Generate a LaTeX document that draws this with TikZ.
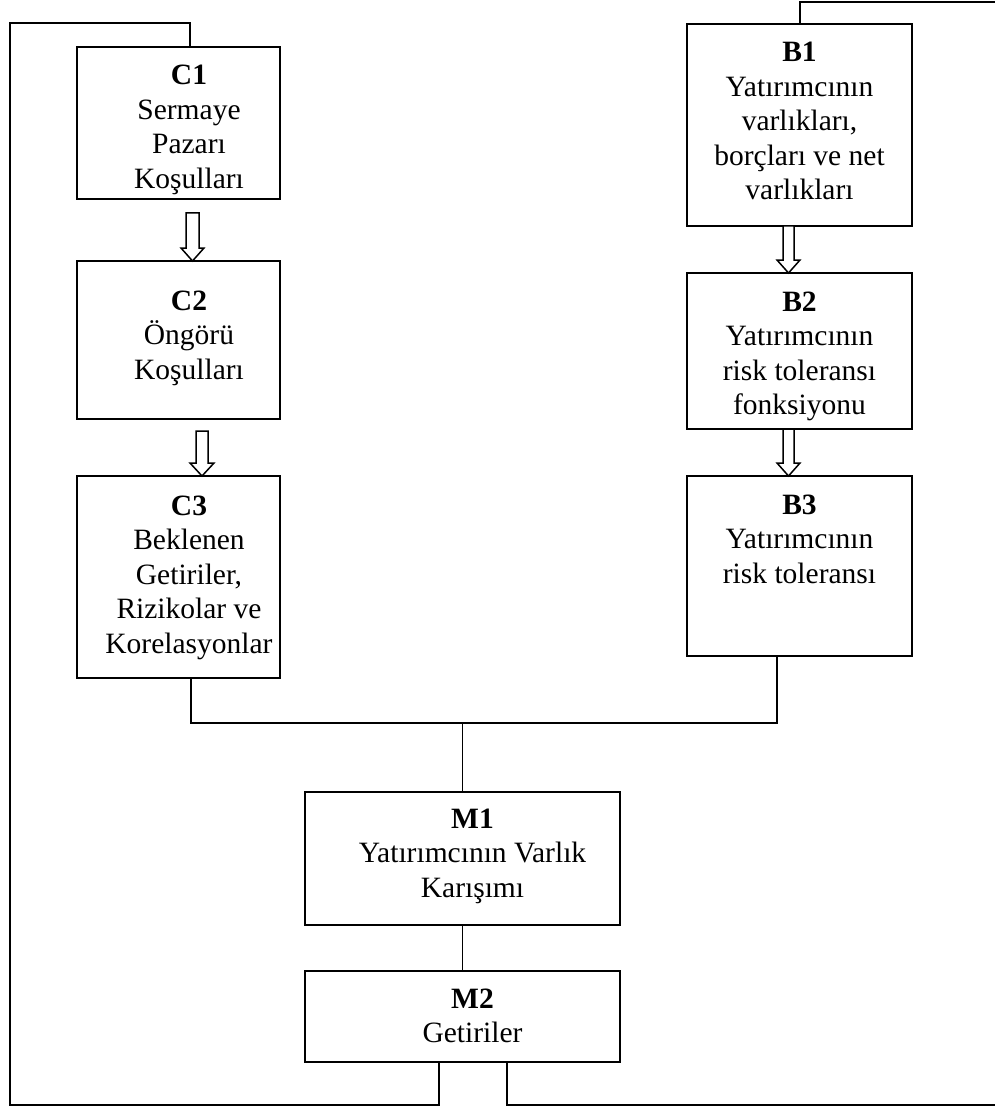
\documentclass[tikz,border=0pt]{standalone}
\usepackage{fontspec}
\setmainfont{Liberation Serif}
\usetikzlibrary{calc}
\tikzset{
  box/.style={draw, line width=1.6pt, inner sep=0pt, outer sep=0pt},
  txt/.style={anchor=north, align=center, inner sep=0pt, outer sep=0pt,
    font=\fontsize{29.5}{34.5}\selectfont},
  link/.style={line width=1.6pt},
  harrow/.style={line width=1.5pt, fill=white, line join=miter}
}
\begin{document}
\begin{tikzpicture}[x=1pt, y=-1pt]
\useasboundingbox (0,0) rectangle (994,1107);
% boxes
\node[box, minimum width=203pt, minimum height=152pt] (c1) at (178.5,123) {};
\node[box, minimum width=203pt, minimum height=158pt] (c2) at (178.5,340) {};
\node[box, minimum width=203pt, minimum height=202pt] (c3) at (178.5,577) {};
\node[box, minimum width=225pt, minimum height=202pt] (b1) at (799.5,125) {};
\node[box, minimum width=225pt, minimum height=156pt] (b2) at (799.5,351) {};
\node[box, minimum width=225pt, minimum height=180pt] (b3) at (799.5,566) {};
\node[box, minimum width=315pt, minimum height=133pt] (m1) at (462.5,858.5) {};
\node[box, minimum width=315pt, minimum height=91pt] (m2) at (462.5,1016.5) {};
% texts
\node[txt] (c1t) at ($(c1.north)+(10.5,13.85)$) {\strut\textbf{C1}\\Sermaye\\Pazarı\\Koşulları};
\node[txt] (c2t) at ($(c2.north)+(10.5,24.85)$) {\strut\textbf{C2}\\Öngörü\\Koşulları};
\node[txt] (c3t) at ($(c3.north)+(10.5,14.85)$) {\strut\textbf{C3}\\Beklenen\\Getiriler,\\Rizikolar ve\\Korelasyonlar};
\node[txt] (b1t) at ($(b1.north)+(0,13.85)$) {\strut\textbf{B1}\\Yatırımcının\\varlıkları,\\borçları ve net\\varlıkları};
\node[txt] (b2t) at ($(b2.north)+(0,13.85)$) {\strut\textbf{B2}\\Yatırımcının\\risk toleransı\\fonksiyonu};
\node[txt] (b3t) at ($(b3.north)+(0,13.85)$) {\strut\textbf{B3}\\Yatırımcının\\risk toleransı};
\node[txt] (m1t) at ($(m1.north)+(10,11.85)$) {\strut\textbf{M1}\\Yatırımcının Varlık\\Karışımı};
\node[txt] (m2t) at ($(m2.north)+(10,12.85)$) {\strut\textbf{M2}\\Getiriler};
% hollow arrows
\coordinate (a1) at ($(c2.north)+(14,0)$);
\draw[harrow] (a1) -- ++(-11.5,-13) -- ++(5,0) -- ++(0,-35) -- ++(13,0) -- ++(0,35) -- ++(5,0) -- cycle;
\coordinate (a2) at ($(c3.north)+(23.5,0)$);
\draw[harrow] (a2) -- ++(-12,-13) -- ++(6,0) -- ++(0,-32) -- ++(12,0) -- ++(0,32) -- ++(6,0) -- cycle;
\coordinate (a3) at ($(b2.north)+(-11,0)$);
\draw[harrow] (a3) -- ++(-11.5,-13) -- ++(6,0) -- ++(0,-34) -- ++(11,0) -- ++(0,34) -- ++(6,0) -- cycle;
\coordinate (a4) at ($(b3.north)+(-11,0)$);
\draw[harrow] (a4) -- ++(-11.5,-13) -- ++(6,0) -- ++(0,-34) -- ++(11,0) -- ++(0,34) -- ++(6,0) -- cycle;
% merge connectors
\coordinate (j) at (462.5,723);
\draw[link] ($(c3.south)+(12.5,0)$) |- (j) -| ($(b3.south)+(-22.5,0)$);
\draw[link] (j) -- (m1.north);
\draw[link] (m1.south) -- (m2.north);
% feedback loops
\coordinate (lb) at (10,1105);
\coordinate (lt) at (10,23);
\draw[link] ($(m2.south)+(-23.5,0)$) |- (lb) -- (lt) -| ($(c1.north)+(11.5,0)$);
\coordinate (rb) at (1000,1105);
\coordinate (rt) at (1000,2);
\draw[link] ($(m2.south)+(44.5,0)$) |- (rb);
\draw[link] ($(b1.north)+(0.5,0)$) |- (rt);
\end{tikzpicture}
\end{document}
